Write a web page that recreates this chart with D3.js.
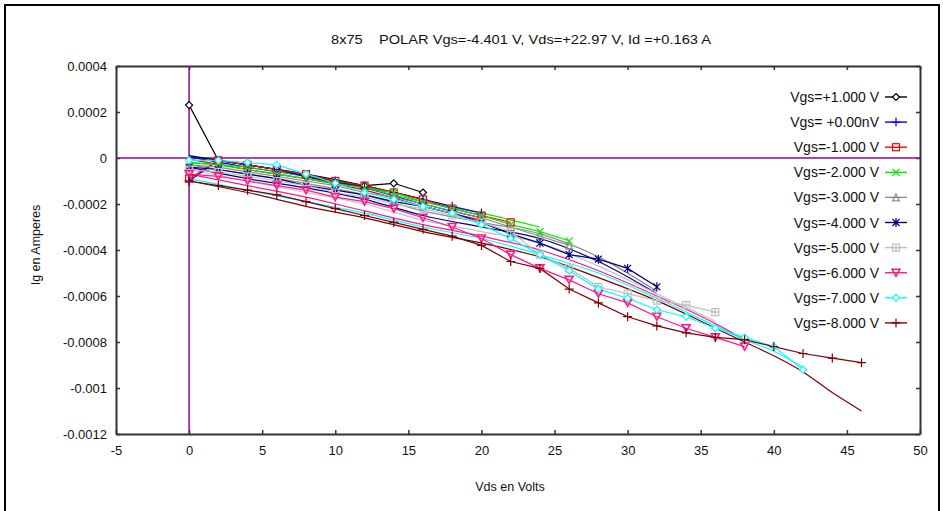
<!DOCTYPE html>
<html><head><meta charset="utf-8">
<script src="https://cdn.jsdelivr.net/npm/d3@7"></script>
<style>
body{margin:0;background:#fff}
svg{display:block}
text{font-family:"Liberation Sans",Arial,sans-serif;fill:#111}
</style>
</head><body>
<svg id="chart" width="943" height="511"></svg>
<script>
// ---------------- DATA ----------------
const titleText = "8x75    POLAR Vgs=-4.401 V, Vds=+22.97 V, Id =+0.163 A";
const xTicks = [-5, 0, 5, 10, 15, 20, 25, 30, 35, 40, 45, 50];
const xTickLabels = ["-5", "0", "5", "10", "15", "20", "25", "30", "35", "40", "45", "50"];
const yTicks = [0.0004, 0.0002, 0, -0.0002, -0.0004, -0.0006, -0.0008, -0.001, -0.0012];
const yTickLabels = ["0.0004", "0.0002", "0", "-0.0002", "-0.0004", "-0.0006", "-0.0008", "-0.001", "-0.0012"];

const seriesNames = ["Vgs=+1.000 V", "Vgs= +0.00nV", "Vgs=-1.000 V", "Vgs=-2.000 V", "Vgs=-3.000 V",
                     "Vgs=-4.000 V", "Vgs=-5.000 V", "Vgs=-6.000 V", "Vgs=-7.000 V", "Vgs=-8.000 V"];
const seriesColors = ["#000000", "#0000ff", "#ff0000", "#00ee00", "#8c8c8c",
                      "#000080", "#c0c0c0", "#ff1a8c", "#00ffff", "#800000"];
const markerTypes = ["diamond", "plus", "square", "cross", "triangle",
                     "star", "squarePlus", "triangleDown", "diamond", "plus"];

// Vds for marked points (every 2 V)
const vdsMarked = [0, 2, 4, 6, 8, 10, 12, 14, 16, 18, 20, 22, 24, 26, 28, 30, 32, 34, 36, 38, 40, 42, 44, 46];

// Ig (A) marked measurements, one per Vds step, each series stops at its last point
const igP1 = [0.00023, -0.00001, -0.00003, -0.00005, -0.00008, -0.00011, -0.00012, -0.00011, -0.00015];
const igP0 = [-0.0001, -0.00001, -0.00003, -0.00005, -0.00008, -0.0001, -0.00013, -0.00015, -0.00018, -0.00021, -0.00024];
const igM1 = [-0.00009, -0.00001, -0.00003, -0.00005, -0.00007, -0.0001, -0.00012, -0.00015, -0.00018, -0.00022, -0.00025, -0.00028];
const igM2 = [-0.00002, -0.00003, -0.00005, -0.00007, -0.00009, -0.00011, -0.00013, -0.00015, -0.00019, -0.00022, -0.00025, -0.00029, -0.00032, -0.00036];
const igM3 = [-0.00003, -0.00004, -0.00006, -0.00008, -0.0001, -0.00012, -0.00015, -0.00017, -0.0002, -0.00023, -0.00026, -0.0003, -0.00034, -0.00038];
const igM4 = [-0.00004, -0.00005, -0.00007, -0.00009, -0.00012, -0.00014, -0.00016, -0.00019, -0.00021, -0.00024, -0.00028, -0.00033, -0.00037, -0.00042, -0.00044, -0.00048, -0.00056];
const igM5 = [-0.00005, -0.00006, -0.00008, -0.0001, -0.00012, -0.00015, -0.00017, -0.0002, -0.00022, -0.00025, -0.00028, -0.00032, -0.00042, -0.00048, -0.00056, -0.00059, -0.00062, -0.00064, -0.00067];
const igM6 = [-0.00007, -0.00008, -0.0001, -0.00012, -0.00014, -0.00017, -0.00019, -0.00022, -0.00026, -0.0003, -0.00035, -0.00042, -0.00048, -0.00053, -0.00059, -0.00063, -0.00069, -0.00074, -0.00078, -0.00082];
const igM7 = [-0.00001, -0.00001, -0.00002, -0.00003, -0.00007, -0.00011, -0.00015, -0.00018, -0.00021, -0.00024, -0.00029, -0.00035, -0.00042, -0.00049, -0.00057, -0.00061, -0.00066, -0.00069, -0.00074, -0.00078, -0.00082, -0.00092];
const igM8 = [-0.0001, -0.00012, -0.00014, -0.00016, -0.00019, -0.00022, -0.00025, -0.00028, -0.00031, -0.00034, -0.00038, -0.00045, -0.00048, -0.00057, -0.00063, -0.00069, -0.00073, -0.00076, -0.00078, -0.00079, -0.00082, -0.00085, -0.00087, -0.00089];

// Vds grid for the unmarked (smooth) traces
const vdsSmooth = [0, 4, 8, 12, 16, 20, 24, 28, 32, 36, 38, 40, 42, 44, 46];
const smP1 = [0.00001, -0.00003, -0.00007, -0.00012, -0.00018];
const smP0 = [0.000005, -0.00004, -0.00008, -0.00013, -0.0002, -0.00026];
const smM1 = [-0.000005, -0.00005, -0.00009, -0.00014, -0.00021, -0.00027];
const smM2 = [-0.00002, -0.00004, -0.00008, -0.00013, -0.00019, -0.00024, -0.0003];
const smM3 = [-0.00003, -0.00007, -0.00011, -0.00016, -0.00023, -0.00028, -0.00033, -0.00043, -0.00058];
const smM4 = [-0.00004, -0.00009, -0.00013, -0.00018, -0.00025, -0.0003, -0.00035, -0.00045, -0.00059];
const smM5 = [-0.00005, -0.0001, -0.00015, -0.0002, -0.00027, -0.00032, -0.00037, -0.00047, -0.00059, -0.00071];
const smM6 = [-0.00007, -0.00012, -0.00017, -0.00023, -0.00029, -0.00034, -0.0004, -0.00049, -0.0006, -0.00072, -0.00079];
const smM7 = [-0.00009, -0.00014, -0.00019, -0.00024, -0.0003, -0.00035, -0.00042, -0.0005, -0.00061, -0.00073, -0.00079, -0.00084, -0.00091];
const smM8 = [-0.0001, -0.00015, -0.00021, -0.00026, -0.00032, -0.00037, -0.00043, -0.00052, -0.00062, -0.00074, -0.0008, -0.00086, -0.00093, -0.00102, -0.0011];

const markedSets = [igP1, igP0, igM1, igM2, igM3, igM4, igM5, igM6, igM7, igM8];
const smoothSets = [smP1, smP0, smM1, smM2, smM3, smM4, smM5, smM6, smM7, smM8];

// ---------------- CHART ----------------
const plot = {left: 116, right: 920, top: 66, bottom: 434};
const svg = d3.select("#chart");

const x = d3.scaleLinear().domain([-5, 50]).range([plot.left, plot.right]);
const y = d3.scaleLinear().domain([-0.0012, 0.0004]).range([plot.bottom, plot.top]);

// outer frame
svg.append("rect").attr("x", 5).attr("y", 5).attr("width", 934).attr("height", 520)
  .attr("fill", "none").attr("stroke", "#000").attr("stroke-width", 2);

// title
svg.append("text").attr("x", 521).attr("y", 44).attr("text-anchor", "middle")
  .attr("font-size", 13).attr("textLength", 380).attr("lengthAdjust", "spacingAndGlyphs")
  .style("white-space", "pre").attr("xml:space", "preserve").text(titleText);

// axes with inward ticks
const axisColor = "#333";
const gB = svg.append("g").attr("transform", `translate(0,${plot.bottom})`)
  .call(d3.axisBottom(x).tickValues(xTicks).tickFormat((d, i) => xTickLabels[i]).tickSizeInner(-4).tickSizeOuter(0).tickPadding(12));
const gL = svg.append("g").attr("transform", `translate(${plot.left},0)`)
  .call(d3.axisLeft(y).tickValues(yTicks).tickFormat((d, i) => yTickLabels[i]).tickSizeInner(-4).tickSizeOuter(0).tickPadding(9));
const gT = svg.append("g").attr("transform", `translate(0,${plot.top})`)
  .call(d3.axisTop(x).tickValues(xTicks).tickSizeInner(-4).tickSizeOuter(0).tickFormat(""));
const gR = svg.append("g").attr("transform", `translate(${plot.right},0)`)
  .call(d3.axisRight(y).tickValues(yTicks).tickSizeInner(-4).tickSizeOuter(0).tickFormat(""));
[gB, gL, gT, gR].forEach(g => {
  g.select(".domain").attr("stroke", axisColor).attr("stroke-width", 2);
  g.selectAll(".tick line").attr("stroke", axisColor).attr("stroke-width", 1.5);
  g.selectAll("text").attr("font-size", 13).attr("fill", "#111")
    .attr("font-family", "'Liberation Sans',Arial,sans-serif");
});

// axis titles
svg.append("text").attr("x", 510).attr("y", 491).attr("text-anchor", "middle").attr("font-size", 12.5).text("Vds en Volts");
svg.append("text").attr("transform", `translate(40,245) rotate(-90)`).attr("text-anchor", "middle")
  .attr("font-size", 12.5).text("Ig en Amperes");

// zero lines
const zeroColor = "#990099";
svg.append("line").attr("x1", plot.left).attr("x2", plot.right).attr("y1", y(0)).attr("y2", y(0))
  .attr("stroke", zeroColor).attr("stroke-width", 1.5);
svg.append("line").attr("x1", x(0)).attr("x2", x(0)).attr("y1", plot.top).attr("y2", plot.bottom)
  .attr("stroke", zeroColor).attr("stroke-width", 1.5);

const line = d3.line().x(d => x(d[0])).y(d => y(d[1]));
const smoothLine = d3.line().x(d => x(d[0])).y(d => y(d[1])).curve(d3.curveMonotoneX);

// smooth traces
smoothSets.forEach((vals, i) => {
  const pts = vals.map((v, k) => [vdsSmooth[k], v]);
  svg.append("path").attr("d", smoothLine(pts)).attr("fill", "none")
    .attr("stroke", seriesColors[i]).attr("stroke-width", 1.2);
});

function drawMarker(g, type, cx, cy, color) {
  const s = 3.5;
  const m = g.append("g").attr("transform", `translate(${cx},${cy})`);
  const apply = sel => sel.attr("stroke", color).attr("stroke-width", 1.2);
  if (type === "diamond") apply(m.append("path").attr("d", `M0,${-s}L${s},0L0,${s}L${-s},0Z`).attr("fill", "#fff"));
  else if (type === "plus") apply(m.append("path").attr("d", `M${-s-1},0H${s+1}M0,${-s-1}V${s+1}`).attr("fill", "none"));
  else if (type === "square") apply(m.append("rect").attr("x", -s).attr("y", -s).attr("width", 2*s).attr("height", 2*s).attr("fill", "none"));
  else if (type === "cross") apply(m.append("path").attr("d", `M${-s},${-s}L${s},${s}M${-s},${s}L${s},${-s}`).attr("fill", "none"));
  else if (type === "triangle") apply(m.append("path").attr("d", `M0,${-s}L${s},${s}L${-s},${s}Z`).attr("fill", "none"));
  else if (type === "star") apply(m.append("path").attr("d", `M${-s},${-s}L${s},${s}M${-s},${s}L${s},${-s}M0,${-s-1}V${s+1}`).attr("fill", "none"));
  else if (type === "squarePlus") apply(m.append("path").attr("d", `M${-s},${-s}H${s}V${s}H${-s}ZM0,${-s}V${s}M${-s},0H${s}`).attr("fill", "none"));
  else if (type === "triangleDown") apply(m.append("path").attr("d", `M${-s-0.5},${-s}H${s+0.5}L0,${s}Z`).attr("fill", "none")).attr("stroke-width", 1.6);
}

// marked traces
markedSets.forEach((vals, i) => {
  const pts = vals.map((v, k) => [vdsMarked[k], v]);
  svg.append("path").attr("d", line(pts)).attr("fill", "none")
    .attr("stroke", seriesColors[i]).attr("stroke-width", 1.2);
});
const mg = svg.append("g");
markedSets.forEach((vals, i) => {
  vals.forEach((v, k) => drawMarker(mg, markerTypes[i], x(vdsMarked[k]), y(v), seriesColors[i]));
});

// legend
const legY0 = 97, legDy = 25.1;
seriesNames.forEach((name, i) => {
  const ly = legY0 + i * legDy;
  svg.append("rect").attr("x", 780).attr("y", ly - 9).attr("width", 130).attr("height", 18).attr("fill", "#fff");
  svg.append("text").attr("x", 879).attr("y", ly + 5).attr("text-anchor", "end").attr("font-size", 14)
    .style("white-space", "pre").text(name);
  svg.append("line").attr("x1", 885).attr("x2", 907).attr("y1", ly).attr("y2", ly)
    .attr("stroke", seriesColors[i]).attr("stroke-width", 1.4);
  drawMarker(svg, markerTypes[i], 896, ly, seriesColors[i]);
});
</script>
</body></html>
